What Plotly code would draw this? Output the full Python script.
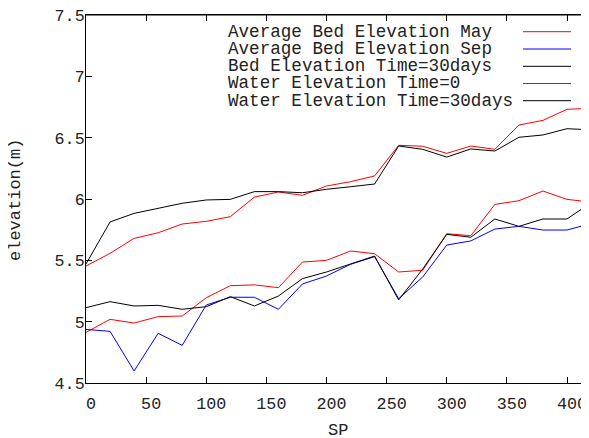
import plotly.graph_objects as go

sp = [0, 20, 40, 60, 80, 100, 120, 140, 160, 180, 200, 220, 240, 260, 280,
      300, 320, 340, 360, 380, 400, 420]

bed_may = [4.913, 5.019, 4.989, 5.041, 5.046, 5.195, 5.293, 5.300, 5.277, 5.486,
           5.500, 5.576, 5.554, 5.405, 5.419, 5.717, 5.701, 5.956, 5.986, 6.065,
           5.997, 5.975]
bed_sep = [4.937, 4.921, 4.598, 4.905, 4.807, 5.136, 5.199, 5.199, 5.101, 5.307,
           5.372, 5.468, 5.530, 5.187, 5.364, 5.625, 5.658, 5.755, 5.777, 5.747,
           5.747, 5.800]
bed_30 = [5.114, 5.163, 5.128, 5.133, 5.101, 5.122, 5.204, 5.128, 5.209, 5.351,
          5.405, 5.473, 5.535, 5.177, 5.429, 5.712, 5.688, 5.837, 5.777, 5.837,
          5.837, 5.970]
water_0 = [5.454, 5.557, 5.679, 5.725, 5.796, 5.818, 5.856, 6.015, 6.057, 6.030,
           6.106, 6.141, 6.188, 6.438, 6.430, 6.372, 6.432, 6.405, 6.603, 6.641,
           6.731, 6.740]
water_30 = [5.470, 5.813, 5.883, 5.921, 5.965, 5.992, 5.997, 6.060, 6.060, 6.051,
            6.079, 6.100, 6.122, 6.432, 6.405, 6.342, 6.408, 6.391, 6.503, 6.522,
            6.573, 6.564]

series_names = ["Average Bed Elevation May", "Average Bed Elevation Sep",
                "Bed Elevation Time=30days", "Water Elevation Time=0",
                "Water Elevation Time=30days"]
series_values = [bed_may, bed_sep, bed_30, water_0, water_30]
series_colors = ["#ff0000", "#0000ff", "#000000", "#ff0000", "#000000"]

x_ticks = [0, 50, 100, 150, 200, 250, 300, 350, 400]
x_ticklabels = ["0", "50", "100", "150", "200", "250", "300", "350", "400"]
y_ticks = [4.5, 5, 5.5, 6, 6.5, 7, 7.5]
y_ticklabels = ["4.5", "5", "5.5", "6", "6.5", "7", "7.5"]

FONT = "Liberation Mono, Courier New, monospace"

fig = go.Figure()
for name, vals, col in zip(series_names, series_values, series_colors):
    fig.add_trace(go.Scatter(x=sp, y=vals, mode="lines", name=name,
                             line=dict(color=col, width=1), showlegend=False))

# page has an 8px body margin; work in page pixels and convert
OFF = 8
W, H = 589 - OFF, 438 - OFF
L = 86 - OFF
T = 15 - OFF
B = H - (383 - OFF)
R = 0
pw, ph = W - L - R, H - T - B


def px(xp):
    return (xp - 86) / pw


def py(yp):
    return (383 - yp) / ph


row_y = [31.7, 49.0, 66.3, 83.5, 100.7]
for name, col, yy in zip(series_names, series_colors, row_y):
    fig.add_annotation(x=px(226), y=py(yy), xref="paper", yref="paper",
                       text=name, showarrow=False, xanchor="left", yanchor="middle",
                       font=dict(family=FONT, size=17.6, color="#222"))
    fig.add_shape(type="line", xref="paper", yref="paper",
                  x0=px(523), x1=px(571), y0=py(yy), y1=py(yy),
                  line=dict(color=col, width=1))

# top border of the frame
fig.add_shape(type="line", xref="paper", yref="paper", x0=0, x1=1, y0=1, y1=1,
              line=dict(color="black", width=1))

fig.add_annotation(x=px(15), y=py(200), xref="paper", yref="paper",
                   text="elevation(m)", textangle=-90, showarrow=False,
                   xanchor="center", yanchor="middle",
                   font=dict(family=FONT, size=17, color="#222"))
fig.add_annotation(x=px(338), y=py(430), xref="paper", yref="paper",
                   text="SP", showarrow=False, xanchor="center", yanchor="middle",
                   font=dict(family=FONT, size=17, color="#222"))

fig.update_layout(
    width=W, height=H, margin=dict(l=L, r=R, t=T, b=B, autoexpand=False),
    plot_bgcolor="white", paper_bgcolor="white",
    font=dict(family=FONT, size=16.7, color="#222"),
    xaxis=dict(range=[0, pw / 1.2025], tickvals=x_ticks,
               ticktext=["\u00a0" + t for t in x_ticklabels],
               ticks="inside", ticklen=6,
               tickcolor="black", showline=True, linecolor="black", linewidth=1,
               mirror="ticks", showgrid=False, zeroline=False,
               ticklabelstandoff=5, ticklabeloverflow="allow", automargin=False),
    yaxis=dict(range=[4.5, 7.5], tickvals=y_ticks, ticktext=y_ticklabels,
               ticks="inside", ticklen=6, tickcolor="black", showline=True,
               linecolor="black", linewidth=1, mirror="ticks", showgrid=False,
               zeroline=False, ticklabelstandoff=-3, ticklabeloverflow="allow",
               automargin=False),
)

fig.write_html("out.html")
